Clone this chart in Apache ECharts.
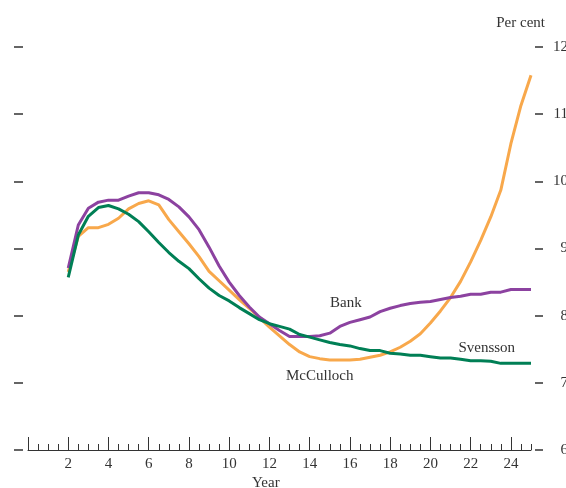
<!DOCTYPE html>
<html>
<head>
<meta charset="utf-8">
<script src="https://cdn.jsdelivr.net/npm/echarts@6/dist/echarts.min.js"></script>
<style>
  html, body { margin: 0; padding: 0; background: #fff; }
  #chart { width: 566px; height: 488px; }
</style>
</head>
<body>
<div id="chart"></div>
<script>
// Maturity in years
const years = [2, 2.5, 3, 3.5, 4, 4.5, 5, 5.5, 6, 6.5, 7, 7.5, 8, 8.5, 9, 9.5, 10, 10.5,
  11, 11.5, 12, 12.5, 13, 13.5, 14, 14.5, 15, 15.5, 16, 16.5, 17, 17.5, 18, 18.5, 19,
  19.5, 20, 20.5, 21, 21.5, 22, 22.5, 23, 23.5, 24, 24.5, 25];

// Forward rates, per cent
const bank = [8.71, 9.35, 9.60, 9.69, 9.72, 9.72, 9.78, 9.83, 9.83, 9.80, 9.73, 9.62,
  9.47, 9.28, 9.02, 8.74, 8.50, 8.30, 8.13, 7.98, 7.88, 7.78, 7.69, 7.69, 7.69, 7.70,
  7.74, 7.84, 7.90, 7.94, 7.98, 8.06, 8.11, 8.15, 8.18, 8.20, 8.21, 8.24, 8.27, 8.29,
  8.32, 8.32, 8.35, 8.35, 8.39, 8.39, 8.39];

const mcculloch = [8.65, 9.18, 9.31, 9.31, 9.36, 9.45, 9.59, 9.67, 9.71, 9.65, 9.43,
  9.25, 9.07, 8.88, 8.66, 8.52, 8.38, 8.24, 8.11, 7.97, 7.83, 7.70, 7.57, 7.46, 7.39,
  7.36, 7.34, 7.34, 7.34, 7.35, 7.38, 7.41, 7.46, 7.53, 7.62, 7.73, 7.89, 8.07, 8.27,
  8.51, 8.80, 9.12, 9.47, 9.87, 10.56, 11.13, 11.58];

const svensson = [8.57, 9.20, 9.48, 9.61, 9.64, 9.59, 9.51, 9.40, 9.25, 9.09, 8.94,
  8.81, 8.70, 8.55, 8.41, 8.30, 8.22, 8.12, 8.03, 7.94, 7.88, 7.84, 7.80, 7.72, 7.68,
  7.64, 7.60, 7.57, 7.55, 7.51, 7.48, 7.48, 7.44, 7.43, 7.41, 7.41, 7.39, 7.37, 7.37,
  7.35, 7.33, 7.33, 7.32, 7.29, 7.29, 7.29, 7.29];

// Axis tick values
const xLabelValues = [2, 4, 6, 8, 10, 12, 14, 16, 18, 20, 22, 24];
const xMajorTicks = [0, 2, 4, 6, 8, 10, 12, 14, 16, 18, 20, 22, 24];

// Curve name labels, placed in data coordinates
const nameLabels = {
  Bank: [15.8, 8.19],
  McCulloch: [14.5, 7.10],
  Svensson: [22.8, 7.52]
};

const FONT = '"Liberation Serif", "Times New Roman", serif';
const TEXT = '#333';
const HIDDEN_LINE = { show: true, lineStyle: { color: 'rgba(0,0,0,0)', width: 0 } };

const pairs = vals => years.map((x, i) => [x, vals[i]]);

function curve(name, vals, color) {
  return {
    name: name,
    type: 'line',
    data: pairs(vals),
    showSymbol: false,
    smooth: false,
    lineStyle: { color: color, width: 3 },
    itemStyle: { color: color },
    z: name === 'McCulloch' ? 3 : (name === 'Bank' ? 4 : 5),
    markPoint: {
      silent: true,
      symbol: 'circle',
      symbolSize: 1,
      itemStyle: { color: 'rgba(0,0,0,0)' },
      label: {
        show: true,
        position: 'inside',
        formatter: name,
        color: TEXT,
        fontFamily: FONT,
        fontSize: 15
      },
      data: [{ coord: nameLabels[name] }]
    }
  };
}

const chart = echarts.init(document.getElementById('chart'), null, { renderer: 'canvas' });

chart.setOption({
  animation: false,
  backgroundColor: '#fff',
  grid: {
    left: 28, right: 35, top: 47, bottom: 38,
    containLabel: false,
    outerBoundsMode: 'none'
  },
  xAxis: [
    {
      type: 'value',
      min: 0, max: 25, interval: 0.5,
      axisLine: { show: true, onZero: false, lineStyle: { color: '#333', width: 1 } },
      axisTick: { show: true, inside: true, length: 6, lineStyle: { color: '#333', width: 1 } },
      axisLabel: {
        show: true,
        customValues: xLabelValues,
        margin: 7,
        color: TEXT, fontFamily: FONT, fontSize: 15
      },
      splitLine: { show: false }
    },
    {
      type: 'value',
      position: 'bottom',
      min: 0, max: 25,
      axisLine: Object.assign({ onZero: false }, HIDDEN_LINE),
      axisTick: {
        show: true, inside: true, length: 13,
        customValues: xMajorTicks,
        lineStyle: { color: '#333', width: 1 }
      },
      axisLabel: { show: false },
      splitLine: { show: false }
    }
  ],
  yAxis: [
    {
      type: 'value',
      position: 'right',
      min: 6, max: 12, interval: 1,
      offset: 4,
      axisLine: Object.assign({ onZero: false }, HIDDEN_LINE),
      axisTick: { show: true, inside: false, length: 8, lineStyle: { color: '#333', width: 1.5 } },
      axisLabel: {
        show: true, align: 'right', margin: 33,
        color: TEXT, fontFamily: FONT, fontSize: 15
      },
      splitLine: { show: false }
    },
    {
      type: 'value',
      position: 'left',
      min: 6, max: 12, interval: 1,
      offset: 5,
      axisLine: Object.assign({ onZero: false }, HIDDEN_LINE),
      axisTick: { show: true, inside: false, length: 9, lineStyle: { color: '#333', width: 1.5 } },
      axisLabel: { show: false },
      splitLine: { show: false }
    }
  ],
  graphic: [
    {
      type: 'text', right: 21, top: 16,
      style: { text: 'Per cent', fill: TEXT, font: '15px ' + FONT }
    },
    {
      type: 'text', left: 252, top: 476,
      style: { text: 'Year', fill: TEXT, font: '15px ' + FONT }
    }
  ],
  series: [
    curve('McCulloch', mcculloch, '#F8A84B'),
    curve('Bank', bank, '#8C42A0'),
    curve('Svensson', svensson, '#007F55')
  ]
});
</script>
</body>
</html>
